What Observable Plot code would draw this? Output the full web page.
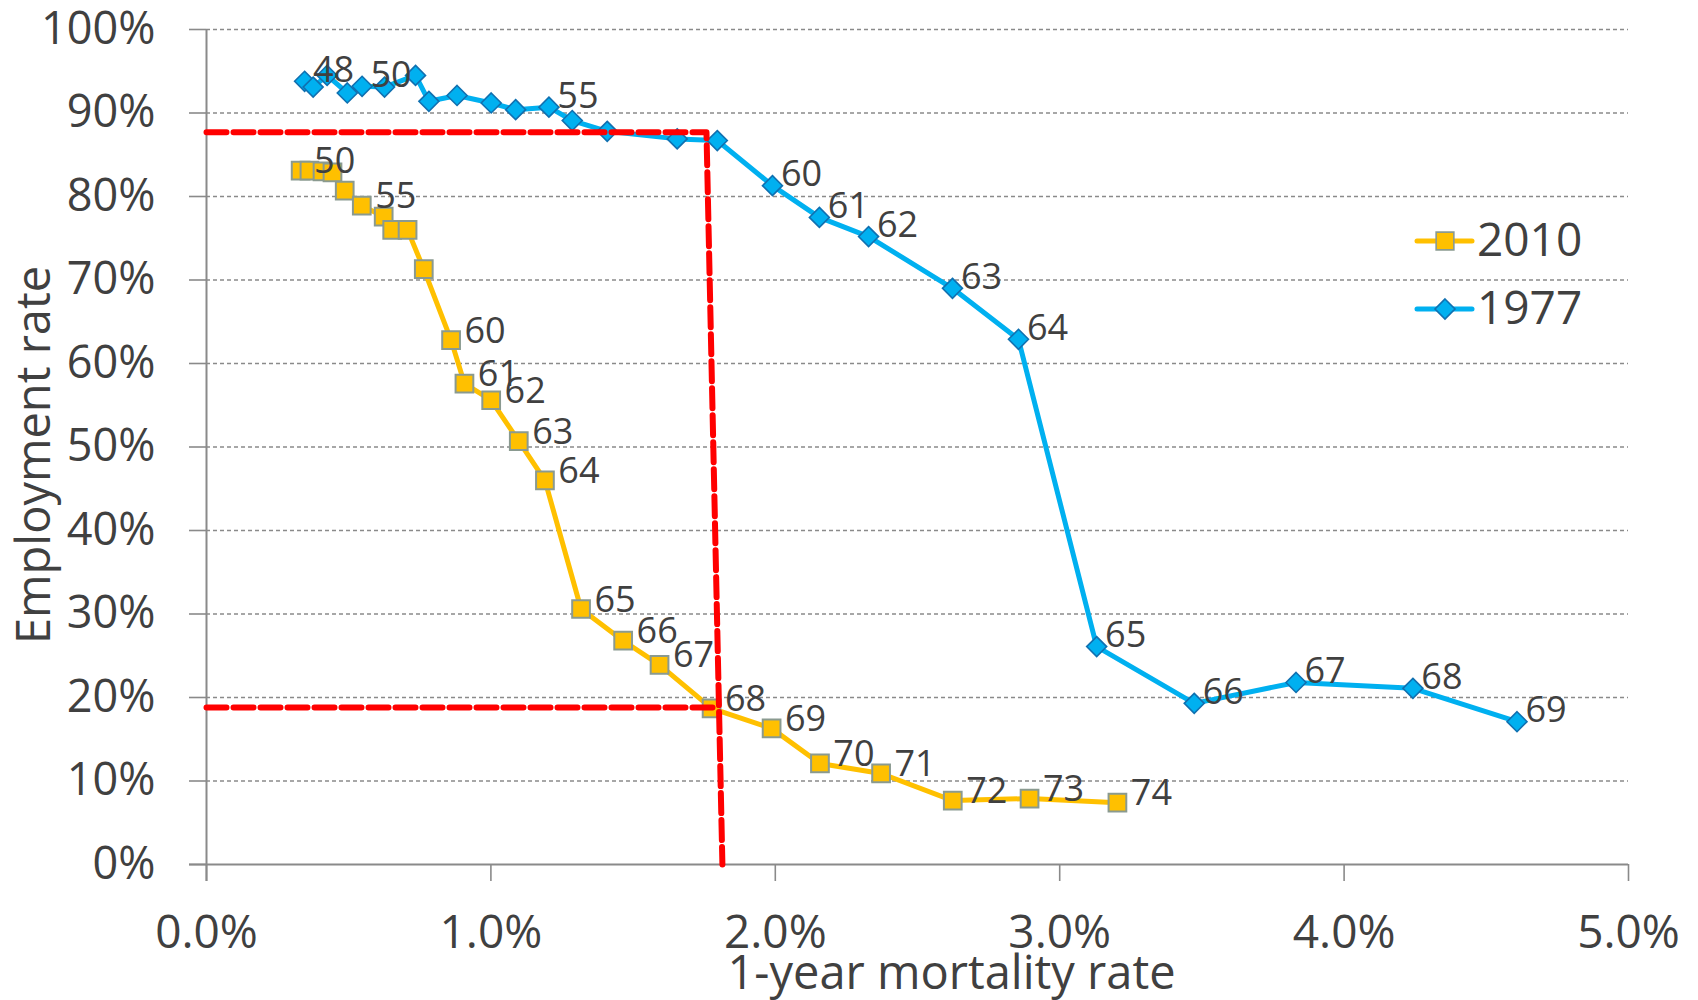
<!DOCTYPE html>
<html>
<head>
<meta charset="utf-8">
<script src="https://cdn.jsdelivr.net/npm/d3@7"></script>
<script src="https://cdn.jsdelivr.net/npm/@observablehq/plot@0.6"></script>
<style>
  html, body { margin: 0; padding: 0; background: #ffffff; }
  #wrap { position: relative; width: 1698px; height: 1000px; font-family: "Open Sans", sans-serif; }
  #legend { position: absolute; left: 0; top: 0; pointer-events: none; }
</style>
</head>
<body>
<div id="wrap"></div>
<script>
// ---- Data ----
// 2010 series: 1-year mortality rate (%) and employment rate (%)
const x2010 = [0.331, 0.362, 0.408, 0.443, 0.486, 0.546, 0.623, 0.653, 0.707, 0.764, 0.860, 0.907, 1.001, 1.098, 1.190, 1.317, 1.465, 1.593, 1.776, 1.987, 2.157, 2.372, 2.624, 2.894, 3.203];
const y2010 = [83.1, 83.1, 83.0, 82.9, 80.7, 78.9, 77.6, 76.0, 76.0, 71.3, 62.8, 57.6, 55.6, 50.7, 46.0, 30.6, 26.8, 23.9, 18.7, 16.3, 12.1, 10.9, 7.65, 7.9, 7.4];
const labels2010 = ["50", "", "", "", "", "55", "", "", "", "", "60", "61", "62", "63", "64", "65", "66", "67", "68", "69", "70", "71", "72", "73", "74"];

// 1977 series
const x1977 = [0.345, 0.375, 0.424, 0.495, 0.547, 0.626, 0.735, 0.782, 0.881, 1.001, 1.087, 1.204, 1.286, 1.409, 1.655, 1.796, 1.990, 2.155, 2.328, 2.623, 2.855, 3.130, 3.473, 3.831, 4.242, 4.608];
const y1977 = [93.8, 93.1, 94.5, 92.4, 93.2, 93.1, 94.5, 91.4, 92.1, 91.2, 90.4, 90.7, 89.1, 87.8, 86.9, 86.7, 81.3, 77.5, 75.2, 69.0, 62.9, 26.1, 19.3, 21.8, 21.1, 17.1];
const labels1977 = ["48", "", "", "", "50", "", "", "", "", "", "", "55", "", "", "", "", "60", "61", "62", "63", "64", "65", "66", "67", "68", "69"];

// Red dashed reference lines (mortality %, employment %)
const refUpperX = [0, 1.758, 1.814];
const refUpperY = [87.7, 87.7, 0];
const refLowerX = [0, 1.797];
const refLowerY = [18.8, 18.8];

// Ticks
const xTicks = [0, 1, 2, 3, 4, 5];
const yTicks = [0, 10, 20, 30, 40, 50, 60, 70, 80, 90, 100];

const seriesNames = ["2010", "1977"];
const xTitle = "1-year mortality rate";
const yTitle = "Employment rate";

// ---- Build tables ----
const d2010 = x2010.map((x, i) => ({x, y: y2010[i], label: labels2010[i]}));
const d1977 = x1977.map((x, i) => ({x, y: y1977[i], label: labels1977[i]}));
const refUpper = refUpperX.map((x, i) => ({x, y: refUpperY[i]}));
const refLower = refLowerX.map((x, i) => ({x, y: refLowerY[i]}));

const GOLD = "#ffc000", BLUE = "#00b0f0", GRAY = "#8a8a8a", TEXT = "#404040";

const chart = Plot.plot({
  width: 1698,
  height: 1000,
  marginLeft: 206,
  marginRight: 70,
  marginTop: 29,
  marginBottom: 136,
  x: {domain: [0, 5]},
  y: {domain: [0, 100]},
  style: {fontFamily: "'Open Sans', sans-serif", background: "#ffffff", color: TEXT, overflow: "visible"},
  marks: [
    Plot.gridY(yTicks.filter(d => d > 0), {stroke: GRAY, strokeOpacity: 1, strokeWidth: 1.6, strokeDasharray: "4,3"}),
    Plot.axisY(yTicks, {tickSize: 17, tickPadding: 34, fontSize: 45, tickFormat: d => d + "%", stroke: GRAY, strokeWidth: 1.6, fill: TEXT, label: null}),
    Plot.axisX(xTicks, {tickSize: 17, tickPadding: 34, fontSize: 46, tickFormat: d => d.toFixed(1) + "%", stroke: GRAY, strokeWidth: 1.6, fill: TEXT, label: null}),
    Plot.ruleX([0], {stroke: GRAY, strokeWidth: 2, insetBottom: -17}),
    Plot.ruleY([0], {stroke: GRAY, strokeWidth: 2, insetLeft: -17}),
    Plot.line(d2010, {x: "x", y: "y", stroke: GOLD, strokeWidth: 5, strokeLinejoin: "round"}),
    Plot.dot(d2010, {x: "x", y: "y", symbol: "square", r: 10, fill: GOLD, stroke: "#8a9a90", strokeWidth: 2}),
    Plot.line(d1977, {x: "x", y: "y", stroke: BLUE, strokeWidth: 5, strokeLinejoin: "round"}),
    Plot.dot(d1977, {x: "x", y: "y", symbol: "diamond2", r: 9, fill: BLUE, stroke: "#1070b0", strokeWidth: 1.6}),
    Plot.text(d2010.filter(d => d.label), {x: "x", y: "y", text: "label", dx: 34, dy: -9, fontSize: 36, fill: TEXT}),
    Plot.text(d1977.filter(d => d.label), {x: "x", y: "y", text: "label", dx: 29, dy: -11, fontSize: 36, fill: TEXT}),
    Plot.line(refUpper, {x: "x", y: "y", stroke: "#ff0000", strokeWidth: 6, strokeDasharray: "20,7"}),
    Plot.line(refLower, {x: "x", y: "y", stroke: "#ff0000", strokeWidth: 6, strokeDasharray: "20,7"}),
    Plot.text([yTitle], {frameAnchor: "left", textAnchor: "middle", lineAnchor: "middle", rotate: -90, dx: -172, dy: 8, fontSize: 47, fill: TEXT}),
    Plot.text([xTitle], {frameAnchor: "bottom", textAnchor: "middle", lineAnchor: "middle", dx: 34, dy: 109, fontSize: 47, fill: TEXT})
  ]
});

const wrap = document.getElementById("wrap");
wrap.appendChild(chart);

// ---- Legend (overlay) ----
const leg = d3.select(wrap).append("svg")
  .attr("id", "legend")
  .attr("width", 1698).attr("height", 1000);
const legendItems = [
  {name: seriesNames[0], color: GOLD, symbol: d3.symbolSquare, size: 314, stroke: "#8a9a90", cy: 241},
  {name: seriesNames[1], color: BLUE, symbol: d3.symbolDiamond2, size: 255, stroke: "#1070b0", cy: 309}
];
legendItems.forEach(it => {
  const g = leg.append("g");
  g.append("line").attr("x1", 1417).attr("x2", 1472).attr("y1", it.cy).attr("y2", it.cy)
    .attr("stroke", it.color).attr("stroke-width", 5).attr("stroke-linecap", "round");
  g.append("path").attr("d", d3.symbol(it.symbol, it.size)())
    .attr("transform", `translate(1445,${it.cy})`)
    .attr("fill", it.color).attr("stroke", it.stroke).attr("stroke-width", 1.6);
  g.append("text").attr("x", 1477).attr("y", it.cy + 15)
    .attr("font-family", "'Open Sans', sans-serif").attr("font-size", 46).attr("fill", TEXT)
    .text(it.name);
});
</script>
</body>
</html>
